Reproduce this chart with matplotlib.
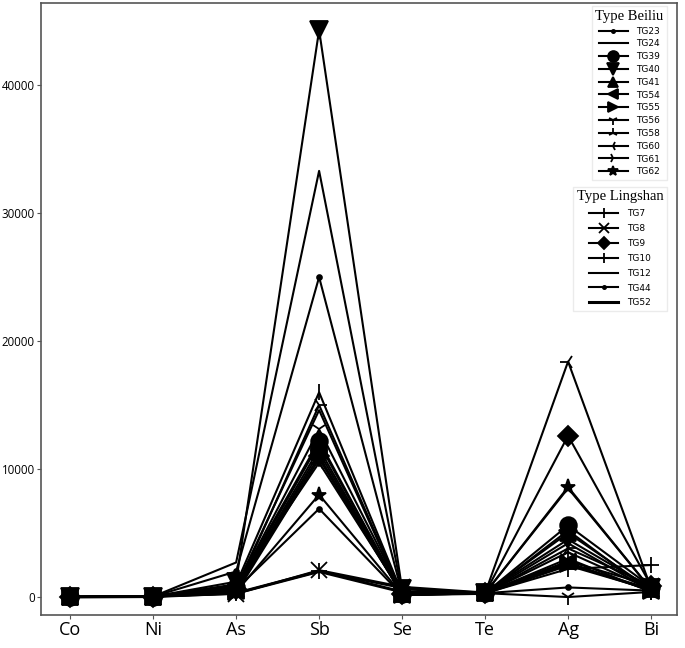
import numpy as np
import matplotlib.pyplot as plt

elements = ['Co', 'Ni', 'As', 'Sb', 'Se', 'Te', 'Ag', 'Bi']

# Type Beiliu
beiliu_names = ['TG23', 'TG24', 'TG39', 'TG40', 'TG41', 'TG54', 'TG55',
                'TG56', 'TG58', 'TG60', 'TG61', 'TG62']
beiliu_vals = [
    [5, 40, 2000, 25000, 300, 300, 750, 500],
    [5, 40, 2700, 33300, 400, 300, 8500, 600],
    [5, 40, 800, 12200, 200, 300, 5600, 800],
    [5, 40, 1200, 44300, 600, 350, 4500, 700],
    [5, 40, 600, 12000, 200, 300, 5000, 600],
    [5, 40, 500, 11600, 150, 300, 2700, 500],
    [5, 40, 400, 11300, 150, 300, 2600, 500],
    [5, 40, 700, 13100, 300, 300, 0, 400],
    [5, 40, 300, 10800, 200, 300, 3500, 600],
    [5, 40, 900, 10500, 300, 300, 18400, 700],
    [5, 40, 500, 15000, 250, 300, 3800, 900],
    [5, 40, 400, 8000, 200, 300, 8600, 600],
]
beiliu_markers = ['.', '', 'o', 'v', '^', '<', '>', '1', '2', '3', '4', '*']

# Type Lingshan
lingshan_names = ['TG7', 'TG8', 'TG9', 'TG10', 'TG12', 'TG44', 'TG52']
lingshan_vals = [
    [5, 40, 300, 2000, 700, 300, 2200, 2500],
    [5, 40, 250, 2100, 800, 350, 2800, 900],
    [5, 40, 600, 11000, 200, 300, 12600, 900],
    [5, 40, 1000, 16000, 300, 300, 3000, 400],
    [5, 40, 800, 14600, 200, 300, 4200, 500],
    [5, 40, 600, 6900, 150, 250, 5200, 400],
    [5, 40, 300, 2000, 400, 300, 2500, 600],
]
lingshan_markers = ['+', 'x', 'D', '|', '', '.', '']

msize = {'.': 7, 'o': 12, 'v': 13, '^': 11, '<': 11, '>': 11, '1': 11, '2': 11,
         '3': 11, '4': 11, '*': 11, '+': 12, 'x': 11, 'D': 10, '|': 12, '': 0}

fig = plt.figure(figsize=(6.85, 6.48), dpi=100)
ax = fig.add_axes([0.06, 0.051, 0.928, 0.944])
x = np.arange(len(elements))

h1 = []
for name, vals, m in zip(beiliu_names, beiliu_vals, beiliu_markers):
    l, = ax.plot(x, vals, color='black', lw=1.5, marker=m if m else None,
                 markersize=msize[m], markeredgewidth=1.3, label=name)
    h1.append(l)

h2 = []
for name, vals, m in zip(lingshan_names, lingshan_vals, lingshan_markers):
    lw = 2.2 if name == 'TG52' else 1.5
    l, = ax.plot(x, vals, color='black', lw=lw, marker=m if m else None,
                 markersize=msize[m], markeredgewidth=1.3, label=name)
    h2.append(l)

ax.set_xlim(-0.35, 7.31)
ax.set_ylim(-1400, 46400)
ax.set_xticks(x)
ax.set_xticklabels(elements, fontsize=13, family='Open Sans')
ax.set_yticks([0, 10000, 20000, 30000, 40000])
ax.set_yticklabels(['0', '10000', '20000', '30000', '40000'],
                   fontsize=8.3, family='Open Sans')
ax.tick_params(axis='y', color='#555555', length=3, pad=1.5)
ax.tick_params(axis='x', color='#555555', length=3, pad=1)
for s in ax.spines.values():
    s.set_color('#555555')
    s.set_linewidth(1.2)

legkw = dict(loc='upper right', fontsize=6.5, handlelength=3.2, markerscale=0.65,
             frameon=True, edgecolor='#e6e6e6', fancybox=False,
             borderaxespad=0, handletextpad=1.0,
             title_fontproperties={'family': 'Liberation Serif', 'size': 10.5})
leg1 = ax.legend(handles=h1, title='Type Beiliu', labelspacing=0.42,
                 bbox_to_anchor=(0.985, 0.995), **legkw)
ax.add_artist(leg1)
leg2 = ax.legend(handles=h2, title='Type Lingshan', labelspacing=0.65,
                 bbox_to_anchor=(0.985, 0.70), **legkw)

fig.savefig('out.png', dpi=100)
